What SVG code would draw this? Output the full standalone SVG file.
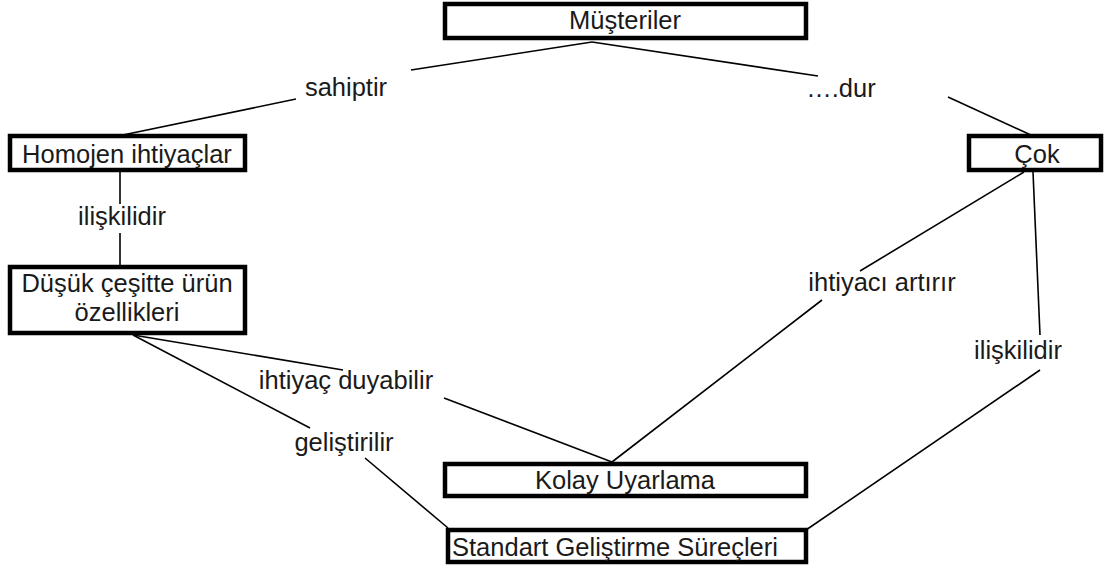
<svg xmlns="http://www.w3.org/2000/svg" width="1105" height="566" viewBox="0 0 1105 566">
  <style>
    .box { fill: #ffffff; stroke: #000000; stroke-width: 4.5; }
    .t { font-family: "Liberation Sans", Arial, sans-serif; font-size: 25.5px; fill: #1a1a1a; }
    .c { text-anchor: middle; }
    .link { stroke: #000000; stroke-width: 1.6; fill: none; }
  </style>
  <rect width="1105" height="566" fill="#ffffff"/>

  <!-- connectors -->
  <g id="connectors">
    <line class="link" x1="411" y1="70" x2="592" y2="42"/>
    <line class="link" x1="592" y1="42" x2="818" y2="76"/>
    <line class="link" x1="296" y1="99" x2="118" y2="136"/>
    <line class="link" x1="948" y1="97" x2="1033" y2="136"/>
    <line class="link" x1="120" y1="172" x2="120" y2="204"/>
    <line class="link" x1="120" y1="233" x2="120" y2="265"/>
    <line class="link" x1="1024" y1="172" x2="860" y2="271"/>
    <line class="link" x1="822" y1="300" x2="612" y2="462"/>
    <line class="link" x1="1033" y1="172" x2="1040" y2="335"/>
    <line class="link" x1="1040" y1="370" x2="806" y2="530"/>
    <line class="link" x1="133" y1="335" x2="343" y2="370"/>
    <line class="link" x1="444" y1="398" x2="612" y2="462"/>
    <line class="link" x1="133" y1="335" x2="310" y2="428"/>
    <line class="link" x1="365" y1="458" x2="448" y2="528"/>
  </g>

  <!-- link labels -->
  <g id="labels">
    <text class="t c" x="346" y="96">sahiptir</text>
    <text class="t c" x="841" y="97">….dur</text>
    <text class="t c" x="122" y="225">ilişkilidir</text>
    <text class="t c" x="882" y="291">ihtiyacı artırır</text>
    <text class="t c" x="1018" y="359">ilişkilidir</text>
    <text class="t c" x="346" y="389">ihtiyaç duyabilir</text>
    <text class="t c" x="344" y="451">geliştirilir</text>
  </g>

  <g id="musteriler">
    <rect class="box" x="445" y="4" width="361" height="34"/>
    <text class="t c" x="625" y="29">Müşteriler</text>
  </g>
  <g id="homojen">
    <rect class="box" x="10" y="136" width="235" height="34"/>
    <text class="t c" x="127" y="163">Homojen ihtiyaçlar</text>
  </g>
  <g id="dusuk">
    <rect class="box" x="10" y="267" width="235" height="66"/>
    <text class="t c" x="127" y="292">Düşük çeşitte ürün</text>
    <text class="t c" x="127" y="321">özellikleri</text>
  </g>
  <g id="cok">
    <rect class="box" x="969" y="136" width="132" height="34"/>
    <text class="t c" x="1037" y="163">Çok</text>
  </g>
  <g id="kolay">
    <rect class="box" x="445" y="464" width="361" height="32"/>
    <text class="t c" x="625" y="489">Kolay Uyarlama</text>
  </g>
  <g id="standart">
    <rect class="box" x="448" y="530" width="358" height="32"/>
    <text class="t" x="452" y="556">Standart Geliştirme Süreçleri</text>
  </g>
</svg>
